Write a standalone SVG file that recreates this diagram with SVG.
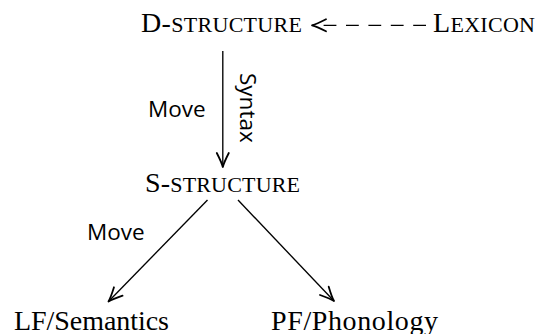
<svg xmlns="http://www.w3.org/2000/svg" width="537" height="334" viewBox="0 0 537 334">
  <style>
    .serif { font-family: "Liberation Serif", "Times New Roman", serif; font-size: 28px; fill: #000; }
    .sc { font-size: 22px; }
    .sans { font-family: "Open Sans", "DejaVu Sans", sans-serif; font-size: 22.5px; fill: #000; }
    .edge { stroke: #000; stroke-width: 1.35; fill: none; }
    .dashed { stroke-dasharray: 12.8 9.6; }
  </style>
  <defs>
    <!-- curved open arrow tip -->
    <marker id="tip" markerUnits="userSpaceOnUse" viewBox="-16 -9 18 18" refX="0" refY="0" markerWidth="18" markerHeight="18" orient="auto">
      <path d="M -14,-6 C -8.5,-3.2 -3.5,-0.9 0,0 C -3.5,0.9 -8.5,3.2 -14,6" fill="none" stroke="#000" stroke-width="1.8" stroke-linecap="round" stroke-linejoin="round" stroke-dasharray="none"/>
    </marker>
  </defs>

  <g id="connectors">
    <!-- Lexicon feeds D-structure -->
    <path class="edge dashed" d="M 426,25.3 L 312,25.3" marker-end="url(#tip)"/>
    <!-- D-structure to S-structure -->
    <path class="edge" d="M 222.8,51 L 222.8,167" marker-end="url(#tip)"/>
    <!-- S-structure to LF and PF -->
    <path class="edge" d="M 207.5,200 L 108.5,301.5" marker-end="url(#tip)"/>
    <path class="edge" d="M 238,200 L 334,301" marker-end="url(#tip)"/>
    <!-- edge labels -->
    <text class="sans" x="148" y="117">Move</text>
    <text class="sans" transform="translate(240,73) rotate(90)">Syntax</text>
    <text class="sans" x="87" y="240">Move</text>
  </g>

  <g id="d-structure">
    <text class="serif" x="141" y="32" textLength="161" lengthAdjust="spacing">D-<tspan class="sc">STRUCTURE</tspan></text>
  </g>
  <g id="lexicon">
    <text class="serif" x="433" y="32" textLength="102" lengthAdjust="spacing">L<tspan class="sc">EXICON</tspan></text>
  </g>
  <g id="s-structure">
    <text class="serif" x="145" y="192" textLength="155" lengthAdjust="spacing">S-<tspan class="sc">STRUCTURE</tspan></text>
  </g>
  <g id="lf">
    <text class="serif" x="14" y="329.5" textLength="155" lengthAdjust="spacing">LF/Semantics</text>
  </g>
  <g id="pf">
    <text class="serif" x="271" y="329.5" textLength="167" lengthAdjust="spacing">PF/Phonology</text>
  </g>
</svg>
